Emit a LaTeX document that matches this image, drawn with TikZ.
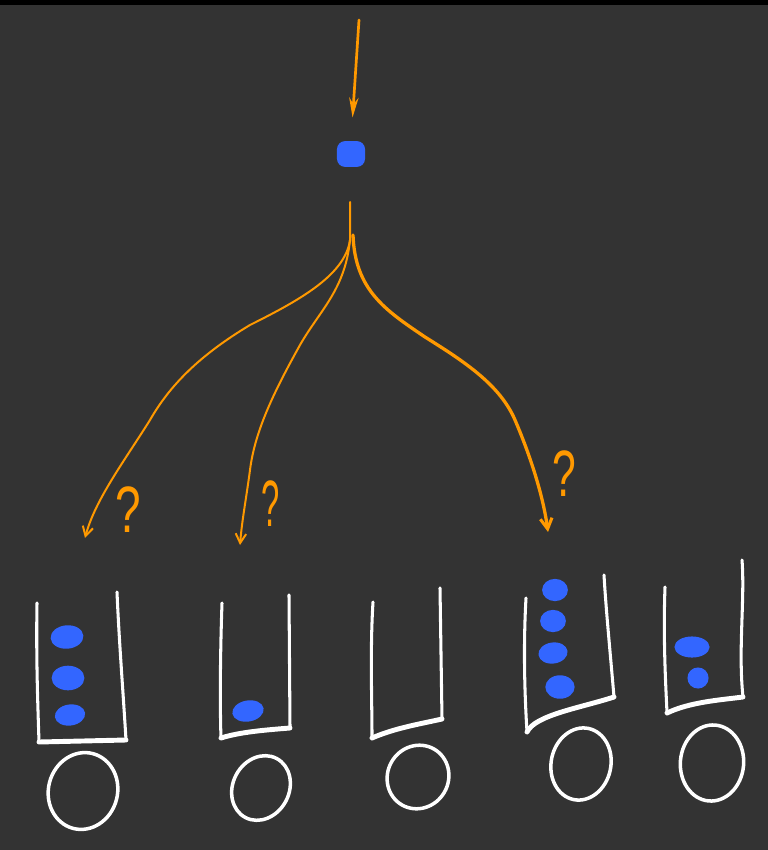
\documentclass[tikz,border=0pt]{standalone}
\usepackage{fontspec}
\setmainfont{Liberation Sans}
\usetikzlibrary{arrows.meta,shapes.geometric}
\definecolor{board}{RGB}{51,51,51}
\definecolor{ink}{RGB}{255,153,0}
\definecolor{beadblue}{RGB}{51,102,255}

\tikzset{
  flow/.style={draw=ink, line width=1.7pt, line cap=round, line join=round,
    -{Straight Barb[length=8pt,width=9pt,line width=1.7pt]}},
  boldflow/.style={flow, line width=2.8pt,
    -{Straight Barb[length=9pt,width=10pt,line width=2.6pt]}},
  bead/.style={ellipse, fill=beadblue, inner sep=0pt},
  wall/.style={draw=white, line width=2.6pt, line cap=round, line join=round},
  floor/.style={draw=white, line width=4.2pt, line cap=round},
  ring/.style={ellipse, draw=white, line width=3pt, inner sep=0pt},
  query/.style={text=ink, inner sep=0pt, font=\fontsize{56}{56}\selectfont}
}

\begin{document}
\begin{tikzpicture}[x=0.03cm, y=-0.03cm]
  % board
  \fill[black] (0,0) rectangle (768,850);
  \fill[board] (0,5) rectangle (768,850);
  \useasboundingbox (0,0) rectangle (768,850);

  % incoming item
  \node[fill=beadblue, rounded corners=7pt, minimum width=24pt, minimum height=22pt, inner sep=0pt] (src) at (351,154) {};
  \coordinate (feed) at (359,20);
  \draw[flow, line width=2.3pt, -{Stealth[length=17pt,width=8pt]}, shorten >=20pt] (feed) -- (src.north);

  % branching choices
  \coordinate (stem) at (350,202);
  \coordinate (fork) at (350,240);
  \coordinate (forkb) at (353,235);
  \coordinate (tipA) at (85,538);
  \coordinate (tipB) at (240,545);
  \coordinate (tipC) at (548,532);

  \draw[flow] (stem) -- (fork)
    .. controls (345,275) and (300,300) .. (250,325)
    .. controls (200,355) and (170,385) .. (150,420)
    .. controls (125,460) and (95,500) .. (tipA);
  \draw[flow] (fork)
    .. controls (345,290) and (320,310) .. (300,345)
    .. controls (275,390) and (255,430) .. (250,470)
    .. controls (246,500) and (242,520) .. (tipB);
  \draw[boldflow] (forkb)
    .. controls (355,290) and (385,310) .. (425,337)
    .. controls (465,362) and (500,385) .. (515,420)
    .. controls (530,455) and (543,495) .. (tipC);

  \node[query, xscale=0.7] (qA) at (128,510) {?};
  \node[query, xscale=0.5] (qB) at (271,504) {?};
  \node[query, xscale=0.65] (qC) at (564,474) {?};

  % bucket 1
  \draw[wall] (37,603) .. controls (36,660) and (38,710) .. (39,742) -- (126,740)
    .. controls (123,690) and (119,640) .. (117,592);
  \draw[floor] (39,742) -- (126,740);
  \node[bead, minimum width=28pt, minimum height=20pt, rotate=5] (b11) at (67,637) {};
  \node[bead, minimum width=28pt, minimum height=21pt] (b12) at (68,678) {};
  \node[bead, minimum width=26pt, minimum height=18pt, rotate=8] (b13) at (70,715) {};
  \node[ring, minimum width=59pt, minimum height=66pt, rotate=-15] (r1) at (83,791) {};

  % bucket 2
  \draw[wall] (222,603) .. controls (220,660) and (220,710) .. (221,738)
    .. controls (240,732) and (265,730) .. (290,728) -- (289,595);
  \draw[floor] (221,738) .. controls (240,732) and (265,730) .. (290,728);
  \node[bead, minimum width=27pt, minimum height=18pt, rotate=10] (b21) at (248,711) {};
  \node[ring, minimum width=48pt, minimum height=57pt, rotate=-28] (r2) at (261,788) {};

  % bucket 3
  \draw[wall] (373,602) .. controls (370,650) and (372,700) .. (372,738)
    .. controls (395,728) and (420,724) .. (442,719) -- (440,588);
  \draw[floor] (372,738) .. controls (395,728) and (420,724) .. (442,719);
  \node[ring, minimum width=52pt, minimum height=55pt, rotate=-30] (r3) at (418,777) {};

  % bucket 4
  \draw[wall] (526,598) .. controls (523,650) and (525,700) .. (527,732)
    .. controls (535,715) and (580,708) .. (614,697)
    .. controls (610,650) and (606,610) .. (604,575);
  \draw[floor] (527,732) .. controls (535,715) and (580,708) .. (614,697);
  \node[bead, minimum width=22pt, minimum height=19pt] (b41) at (555,590) {};
  \node[bead, minimum width=22pt, minimum height=19pt] (b42) at (553,621) {};
  \node[bead, minimum width=25pt, minimum height=18pt, rotate=8] (b43) at (553,653) {};
  \node[bead, minimum width=25pt, minimum height=20pt] (b44) at (560,687) {};
  \node[ring, minimum width=51pt, minimum height=62pt, rotate=-12] (r4) at (581,764) {};

  % bucket 5
  \draw[wall] (665,587) .. controls (663,640) and (666,690) .. (667,713)
    .. controls (690,702) and (720,700) .. (743,697)
    .. controls (738,650) and (745,600) .. (742,560);
  \draw[floor] (667,713) .. controls (690,702) and (720,700) .. (743,697);
  \node[bead, minimum width=30pt, minimum height=18pt] (b51) at (692,647) {};
  \node[bead, minimum width=18pt, minimum height=18pt] (b52) at (698,678) {};
  \node[ring, minimum width=54pt, minimum height=65pt, rotate=-5] (r5) at (712,763) {};
\end{tikzpicture}
\end{document}
